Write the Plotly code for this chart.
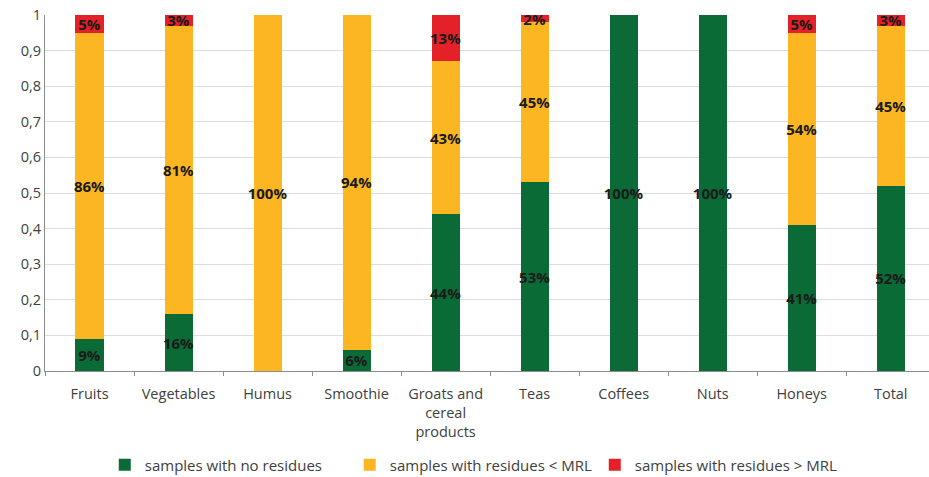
import plotly.graph_objects as go

categories = ["Fruits", "Vegetables", "Humus", "Smoothie", "Groats and<br>cereal<br>products",
              "Teas", "Coffees", "Nuts", "Honeys", "Total"]
no_residues = [0.09, 0.16, 0.00, 0.06, 0.44, 0.53, 1.00, 1.00, 0.41, 0.52]
below_mrl = [0.86, 0.81, 1.00, 0.94, 0.43, 0.45, 0.00, 0.00, 0.54, 0.45]
above_mrl = [0.05, 0.03, 0.00, 0.00, 0.13, 0.02, 0.00, 0.00, 0.05, 0.03]

series = [
    ("samples with no residues", no_residues, "#0A6B37"),
    ("samples with residues < MRL", below_mrl, "#FBB622"),
    ("samples with residues > MRL", above_mrl, "#E42129"),
]

FONT = "Open Sans"

fig = go.Figure()
for name, vals, color in series:
    fig.add_trace(go.Bar(
        x=categories,
        y=vals,
        name=name,
        marker=dict(color=color, line=dict(width=0)),
        text=[f"{round(v * 100)}%" if v > 0 else "" for v in vals],
        textposition="inside",
        insidetextanchor="middle",
        textangle=0,
        textfont=dict(family=FONT, size=15, color="#1a1a1a", weight="bold"),
        hoverinfo="skip",
    ))

fig.update_layout(
    barmode="stack",
    bargap=0.685,
    width=929,
    height=477,
    margin=dict(l=45, r=0, t=15, b=106, autoexpand=False),
    paper_bgcolor="white",
    plot_bgcolor="white",
    separators=", ",
    uniformtext=dict(minsize=15, mode="show"),
    font=dict(family=FONT, size=14, color="#404040"),
    showlegend=True,
    legend=dict(
        orientation="h",
        traceorder="normal",
        x=0.0676, xanchor="left",
        y=-0.264, yanchor="middle",
        font=dict(family=FONT, size=15, color="#404040"),
        itemwidth=30,
        entrywidth=200,
        entrywidthmode="pixels",
    ),
    xaxis=dict(
        type="category",
        range=[-0.5, 9.43],
        automargin=False,
        showline=True,
        linecolor="#8c8c8c",
        linewidth=1,
        ticks="outside",
        tickson="boundaries",
        ticklen=4,
        tickcolor="#8c8c8c",
        ticklabelstandoff=10,
        tickfont=dict(family=FONT, size=14.5, color="#404040"),
        showgrid=False,
    ),
    yaxis=dict(
        range=[0, 1],
        dtick=0.1,
        automargin=False,
        showline=True,
        linecolor="#8c8c8c",
        linewidth=1,
        showgrid=True,
        gridcolor="#dcdcdc",
        gridwidth=1,
        zeroline=False,
        tickfont=dict(family=FONT, size=14.5, color="#404040"),
        ticks="",
    ),
)

fig.write_html("out.html")
